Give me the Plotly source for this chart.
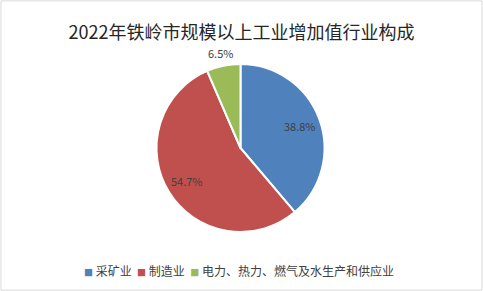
import math
import plotly.graph_objects as go

categories = ["采矿业", "制造业", "电力、热力、燃气及水生产和供应业"]
values = [38.8, 54.7, 6.5]
colors = ["#4F81BD", "#C0504D", "#9BBB59"]
title = "2022年铁岭市规模以上工业增加值行业构成"
label_radius = [0.75, 0.75, 1.15]   # label distance as fraction of pie radius

W, H = 483, 291
cx_px, cy_px, R_px = 240.5, 148.0, 84.0   # pie centre (from top-left) and radius in px

dom_x = [(cx_px - R_px - 10) / W, (cx_px + R_px + 10) / W]
dom_y = [(H - cy_px - R_px) / H, (H - cy_px + R_px) / H]

fig = go.Figure(go.Pie(
    labels=categories,
    values=values,
    sort=False,
    direction="clockwise",
    rotation=0,
    marker=dict(colors=colors, line=dict(color="white", width=2)),
    textinfo="none",
    domain=dict(x=dom_x, y=dom_y),
    showlegend=False,
    hoverinfo="label+percent",
))

# percentage labels placed along each slice's mid-angle
annotations = []
total = sum(values)
cum = 0.0
for v, rf in zip(values, label_radius):
    mid = (cum + v / 2) / total * 2 * math.pi
    cum += v
    px = cx_px + rf * R_px * math.sin(mid)
    py = cy_px - rf * R_px * math.cos(mid)
    annotations.append(dict(
        x=px / W, y=1 - py / H, xref="paper", yref="paper",
        text=f"{v:.1f}%", showarrow=False, xanchor="center", yanchor="middle",
        font=dict(size=11, color="#404040", family="Noto Sans CJK SC"),
    ))

# legend line
legend_text = "&nbsp;&nbsp;".join(
    f"<span style='color:{c};font-size:9px'>■</span> {n}" for c, n in zip(colors, categories)
)
annotations.append(dict(
    x=238.5 / W, y=1 - 270 / H, xref="paper", yref="paper",
    text=legend_text, showarrow=False, xanchor="center", yanchor="middle",
    font=dict(size=12, color="#404040", family="Noto Sans CJK SC"),
))

fig.update_layout(
    width=W, height=H,
    margin=dict(l=0, r=0, t=0, b=0),
    paper_bgcolor="white",
    plot_bgcolor="white",
    font=dict(family="Noto Sans CJK SC", color="#404040"),
    title=dict(text=title, x=0.5, xanchor="center", y=1 - 33 / H, yanchor="middle",
               font=dict(size=18, color="#262626", family="Noto Sans CJK SC")),
    annotations=annotations,
    shapes=[dict(type="rect", xref="paper", yref="paper", x0=0.002, x1=0.998, y0=0.003, y1=0.997,
                 line=dict(color="#D9D9D9", width=1))],
)

fig.write_html("out.html")
